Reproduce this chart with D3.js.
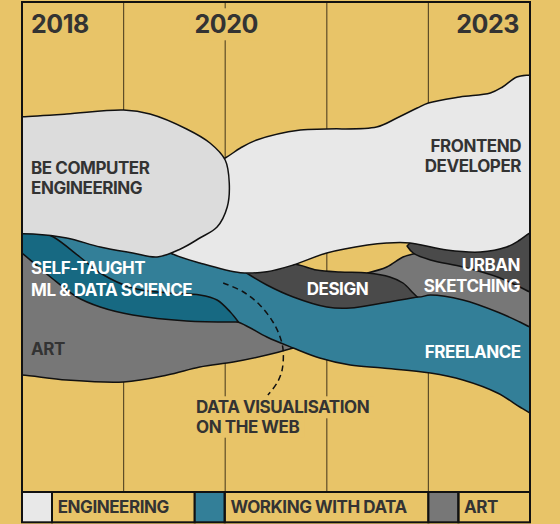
<!DOCTYPE html>
<html><head><meta charset="utf-8">
<script src="https://cdn.jsdelivr.net/npm/d3@7"></script>
<style>
html,body{margin:0;padding:0;background:#E8C468;}
svg{display:block;}
text{font-family:Inter,"Noto Sans",sans-serif;font-weight:700;letter-spacing:-0.45px;}
</style>
</head><body>
<svg id="c" width="560" height="524"></svg>
<script>
// ---------- DATA ----------
const years = [2018, 2019, 2020, 2021, 2022, 2023];
const yearLabels = ["2018", "2020", "2023"];

// stream outlines: [year, depth from top of panel]
const artTop = [[2017.88,243],[2018,243],[2018.77,263],[2019.75,298],[2020.15,313],[2020.41,331],[2020.67,346]];
const artBottom = [[2020.67,346],[2020.41,353],[2020.08,360],[2019.75,365],[2019.43,373],[2019.0,380],[2018.44,378],[2018,373],[2017.88,373]];

const freelanceTop = [[2017.88,223],[2018,223],[2018.31,228],[2019.09,243],[2019.46,248],[2019.75,256],[2020.15,266],[2020.41,266],[2020.74,283],[2021.23,288],[2021.62,288],[2021.89,283],[2022.34,288],[2022.68,298],[2023,308],[2023.15,313]];
const freelanceBottom = [[2023.15,418],[2023,411],[2022.9,405],[2022.68,391],[2022.34,378],[2022.02,371],[2021.55,366],[2021.23,363],[2020.93,356],[2020.67,346],[2020.41,335],[2020.15,321],[2019.75,308],[2018.77,288],[2018.28,263],[2018,248],[2017.88,248]];

const selfTaughtTop = [[2017.88,228],[2018,228],[2018.18,230],[2018.31,235],[2018.57,255],[2018.77,271],[2019.09,286],[2019.43,291],[2019.75,293],[2019.92,298],[2020.05,310],[2020.13,320]];
const selfTaughtBottom = [[2020.13,320],[2019.62,319],[2019.09,313],[2018.77,305],[2018.54,295],[2018.28,275],[2018,251],[2017.88,241]];

const sketchTop = [[2021.4,271],[2021.59,265],[2021.75,255],[2021.85,252],[2022.02,248],[2022.51,248],[2023,260],[2023.15,263]];
const sketchBottom = [[2023.15,330],[2023,325],[2022.9,320],[2022.68,310],[2022.34,298],[2022.02,293],[2021.89,295],[2021.62,283],[2021.4,271]];

const designTop = [[2020.21,271],[2020.41,266],[2020.67,262],[2020.9,268],[2021.13,270],[2021.4,271],[2021.62,275],[2021.75,281],[2021.85,291],[2021.89,295]];
const designBottom = [[2021.89,295],[2021.55,301],[2021.23,306],[2021.0,305],[2020.67,295],[2020.41,283],[2020.21,271]];

const urbanTop = [[2021.79,244],[2021.87,238],[2022.18,241],[2022.51,242],[2022.77,238],[2023,224],[2023.15,218]];
const urbanBottom = [[2023.15,295],[2023,290],[2022.9,285],[2022.68,275],[2022.34,265],[2022.02,258],[2021.85,251],[2021.79,244]];

const frontendTop = [[2019.65,173],[2020,156],[2020.15,146],[2020.31,138],[2020.74,128],[2021,127],[2021.49,125],[2021.69,116],[2021.89,106],[2022,101],[2022.31,95],[2022.61,91],[2022.73,85],[2022.87,75],[2023,73],[2023.15,72]];
const frontendBottom = [[2023.15,226],[2023,231],[2022.9,238],[2022.77,245],[2022.51,250],[2022.18,248],[2021.82,241],[2021.59,241],[2021.4,243],[2021,251],[2020.67,263],[2020.41,269.7],[2020.15,270.7],[2019.75,261],[2019.46,251],[2019.26,238],[2019.36,198]];

const engineeringBlob = [[2017.88,115],[2018,114.7],[2018.44,112],[2019,108],[2019.26,112],[2019.62,127],[2019.85,141],[2020,158],[2020.04,181],[2020.02,205],[2019.92,225],[2019.75,236],[2019.56,247],[2019.33,255],[2019.09,251],[2018.77,245],[2018.44,236],[2018.11,232],[2017.88,232]];

const dataVisPath = [[2019.98,281],[2020.18,290],[2020.34,303],[2020.47,320],[2020.54,335],[2020.57,348],[2020.56,368],[2020.51,381],[2020.42,393]];

const legendLabels = ["ENGINEERING", "WORKING WITH DATA", "ART"];
const legendBreaks = [2018, 2019.7, 2022, 2023];

// ---------- STYLE / LAYOUT ----------
const C = {
  bg:"#E8C468", grid:"#5e4d27", ink:"#111", text:"#333333", white:"#ffffff",
  eng1:"#DCDCDC", eng2:"#E8E8E8", teal:"#337F98", tealDark:"#176982",
  greyDark:"#4A4A4A", grey:"#777777"
};
const legendColors = [C.eng2, C.teal, C.grey];

const svg = d3.select("#c");
const x = d3.scaleLinear().domain([2018, 2023]).range([22, 530]);
const y = d3.scaleLinear().domain([0, 490]).range([2, 492]);
const yTop = y(0), yBot = y(490), legendBottom = 522.3;

svg.append("rect").attr("width",560).attr("height",524).attr("fill",C.bg);

// grid
svg.append("g").selectAll("line").data(years.slice(1,-1)).join("line")
  .attr("x1",d=>x(d)).attr("x2",d=>x(d)).attr("y1",yTop).attr("y2",yBot)
  .attr("stroke",C.grid).attr("stroke-width",1.2);

// helpers
const line = d3.line().x(d=>x(d[0])).y(d=>y(d[1])).curve(d3.curveCatmullRom.alpha(0.5));
const band = (t,b) => line(t) + line(b).replace(/^M/,"L") + "Z";

function labelWithBg(g, lines, px, py, lh, anchor, fill, size, bg){
  const t = g.append("g");
  lines.forEach((s,i)=>{
    const tx = t.append("text").attr("x",px).attr("y",py+i*lh).attr("text-anchor",anchor)
      .attr("font-size",size).attr("fill",fill).text(s);
    if(bg){
      const bb = tx.node().getBBox();
      t.insert("rect","text").attr("x",bb.x-5).attr("y",bb.y-1).attr("width",bb.width+10).attr("height",bb.height+2).attr("fill",C.bg);
    }
  });
  return t;
}

svg.append("clipPath").attr("id","clip").append("rect")
  .attr("x",x(2018)).attr("y",yTop).attr("width",x(2023)-x(2018)).attr("height",yBot-yTop);

const annot = svg.append("g");
labelWithBg(annot, ["DATA VISUALISATION","ON THE WEB"], 196, 413.3, 19.4, "start", C.text, 17, true);

const yl = svg.append("g");
labelWithBg(yl, [yearLabels[0]], x(2018)+9, 33.3, 0, "start", C.text, 25, false);
labelWithBg(yl, [yearLabels[1]], x(2020)+1, 33.3, 0, "middle", C.text, 25, true);
labelWithBg(yl, [yearLabels[2]], x(2023)-11, 33.3, 0, "end", C.text, 25, false);

const g = svg.append("g").attr("clip-path","url(#clip)");
const shapes = [
  [band(artTop, artBottom), C.grey],
  [band(freelanceTop, freelanceBottom), C.teal],
  [band(selfTaughtTop, selfTaughtBottom), C.tealDark],
  [band(sketchTop, sketchBottom), C.grey],
  [band(designTop, designBottom), C.greyDark],
  [band(urbanTop, urbanBottom), C.greyDark],
  [band(frontendTop, frontendBottom), C.eng2],
  [line(engineeringBlob)+"Z", C.eng1]
];
g.selectAll("path").data(shapes).join("path")
  .attr("d",d=>d[0]).attr("fill",d=>d[1])
  .attr("stroke",C.ink).attr("stroke-width",1.5).attr("stroke-linejoin","round");

const sl = svg.append("g");
labelWithBg(sl, ["BE COMPUTER","ENGINEERING"], 31, 174, 20.3, "start", C.text, 17, false);
labelWithBg(sl, ["FRONTEND","DEVELOPER"], 521, 151.7, 20.6, "end", C.text, 17, false);
labelWithBg(sl, ["SELF-TAUGHT","ML & DATA SCIENCE"], 31, 274, 21.7, "start", C.white, 17, false);
labelWithBg(sl, ["ART"], 31, 355, 0, "start", C.text, 17, false);
labelWithBg(sl, ["DESIGN"], 306.7, 295, 0, "start", C.white, 17, false);
labelWithBg(sl, ["URBAN","SKETCHING"], 520, 271.3, 21, "end", C.white, 17, false);
labelWithBg(sl, ["FREELANCE"], 520.7, 358.3, 0, "end", C.white, 17, false);

svg.append("path").attr("d", d3.line().x(d=>x(d[0])).y(d=>y(d[1])).curve(d3.curveCatmullRom)(dataVisPath))
  .attr("fill","none").attr("stroke",C.ink).attr("stroke-width",1.5).attr("stroke-dasharray","6,4");

const lg = svg.append("g");
const sw = 30;
legendLabels.forEach((lab,i)=>{
  const x0 = x(legendBreaks[i]), x1 = x(legendBreaks[i+1]);
  lg.append("rect").attr("x",x0).attr("y",yBot).attr("width",sw).attr("height",legendBottom-yBot)
    .attr("fill",legendColors[i]).attr("stroke",C.ink).attr("stroke-width",2);
  lg.append("rect").attr("x",x0+sw).attr("y",yBot).attr("width",x1-x0-sw).attr("height",legendBottom-yBot)
    .attr("fill","none").attr("stroke",C.ink).attr("stroke-width",2);
  lg.append("text").attr("x",x0+sw+5.7).attr("y",513.3).attr("font-size",17).attr("fill",C.text).text(lab);
});

svg.append("rect").attr("x",x(2018)).attr("y",yTop).attr("width",x(2023)-x(2018)).attr("height",yBot-yTop)
  .attr("fill","none").attr("stroke",C.ink).attr("stroke-width",2);
</script>
</body></html>
